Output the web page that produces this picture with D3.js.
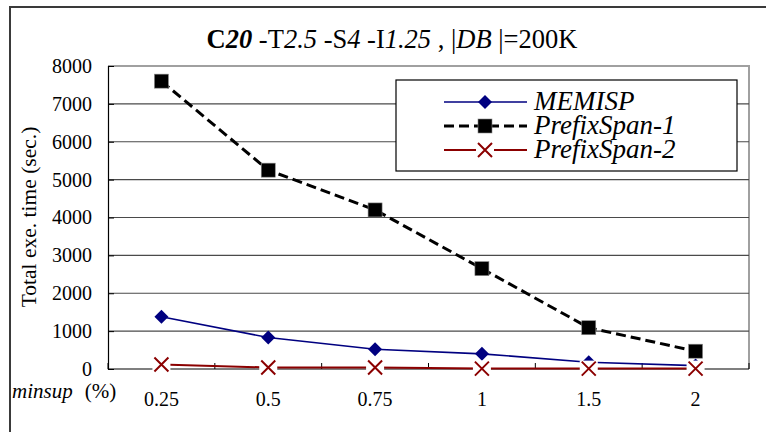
<!DOCTYPE html>
<html>
<head>
<meta charset="utf-8">
<script src="https://cdn.jsdelivr.net/npm/d3@7"></script>
<style>
body { margin: 0; background: #fff; }
svg { display: block; font-family: "Liberation Serif", "Times New Roman", serif; }
</style>
</head>
<body>
<svg id="chart" width="766" height="432"></svg>
<script>
// data
var categories = ["0.25", "0.5", "0.75", "1", "1.5", "2"];
var memisp = [1380, 830, 520, 400, 180, 90];
var prefixSpan1 = [7600, 5250, 4200, 2650, 1090, 470];
var prefixSpan2 = [120, 40, 40, 10, 10, 10];
var yTicks = [0, 1000, 2000, 3000, 4000, 5000, 6000, 7000, 8000];

var svg = d3.select("#chart");

var plotLeft = 108, plotRight = 749, plotTop = 66, plotBottom = 369;

var x = d3.scaleBand().domain(categories).range([plotLeft, plotRight]).padding(0);
var y = d3.scaleLinear().domain([0, 8000]).range([plotBottom, plotTop]);
var cx = function (d, i) { return x(categories[i]) + x.bandwidth() / 2; };

// outer frame (right and bottom edges fall outside the picture)
svg.append("path")
    .attr("d", "M10,432 V7 H766")
    .attr("fill", "none")
    .attr("stroke", "#3a3a3a")
    .attr("stroke-width", 2);

// title
var title = svg.append("text")
    .attr("x", 392).attr("y", 48)
    .attr("text-anchor", "middle")
    .style("font-size", "26.5px");
var parts = [
    ["C", "bold", "normal"], ["20", "bold", "italic"], [" -T", "normal", "normal"],
    ["2.5", "normal", "italic"], [" -S", "normal", "normal"], ["4", "normal", "italic"],
    [" -I", "normal", "normal"], ["1.25", "normal", "italic"], [" , |", "normal", "normal"],
    ["DB", "normal", "italic"], [" |=200K", "normal", "normal"]
];
parts.forEach(function (p) {
    title.append("tspan").text(p[0])
        .style("font-weight", p[1])
        .style("font-style", p[2]);
});

// plot border top/right
svg.append("path")
    .attr("d", "M" + plotLeft + "," + plotTop + " H" + plotRight + " V" + plotBottom)
    .attr("fill", "none")
    .attr("stroke", "#a0a0a0")
    .attr("stroke-width", 2);

// gridlines
svg.append("g").selectAll("line")
    .data(yTicks.filter(function (d) { return d > 0 && d < 8000; }))
    .join("line")
    .attr("x1", plotLeft).attr("x2", plotRight)
    .attr("y1", function (d) { return y(d); })
    .attr("y2", function (d) { return y(d); })
    .attr("stroke", "#4a4a4a")
    .attr("stroke-width", 1.2);

// y axis
var yAxis = svg.append("g")
    .attr("transform", "translate(" + plotLeft + ",0)")
    .call(d3.axisLeft(y).tickValues(yTicks).tickSize(-6).tickPadding(16).tickFormat(d3.format("d")));
yAxis.select(".domain").attr("stroke", "#000").attr("stroke-width", 1.2);
yAxis.selectAll("text")
    .style("font-family", "Liberation Serif")
    .style("font-size", "20px")
    .attr("fill", "#000");

// x axis
var bounds = d3.range(categories.length + 1).map(function (i) { return plotLeft + i * x.bandwidth(); });
svg.append("line")
    .attr("x1", plotLeft).attr("x2", plotRight)
    .attr("y1", plotBottom).attr("y2", plotBottom)
    .attr("stroke", "#000").attr("stroke-width", 1.2);
svg.append("g").selectAll("line")
    .data(bounds)
    .join("line")
    .attr("x1", function (d) { return d; }).attr("x2", function (d) { return d; })
    .attr("y1", plotBottom).attr("y2", plotBottom - 6)
    .attr("stroke", "#000");
svg.append("g").selectAll("text")
    .data(categories)
    .join("text")
    .attr("x", function (d) { return x(d) + x.bandwidth() / 2; })
    .attr("y", 406)
    .attr("text-anchor", "middle")
    .style("font-size", "20px")
    .text(function (d) { return d; });

// x axis title
var xt = svg.append("text").attr("x", 12).attr("y", 398).style("font-size", "21px");
xt.append("tspan").text("minsup").style("font-style", "italic");
xt.append("tspan").attr("dx", 12).text("(%)");

// y axis title
svg.append("text")
    .attr("transform", "translate(36,217) rotate(-90)")
    .attr("text-anchor", "middle")
    .style("font-size", "21.5px")
    .text("Total exe. time (sec.)");

var lineGen = d3.line().x(cx).y(function (d) { return y(d); });

function diamond(g, px, py) {
    g.append("path")
        .attr("d", "M" + px + "," + (py - 7) + " L" + (px + 7) + "," + py + " L" + px + "," + (py + 7) + " L" + (px - 7) + "," + py + "Z")
        .attr("fill", "#000080");
}
function square(g, px, py) {
    g.append("rect")
        .attr("x", px - 7).attr("y", py - 7).attr("width", 14).attr("height", 14)
        .attr("fill", "#000").attr("stroke", "#888").attr("stroke-width", 0.6);
}
function cross(g, px, py) {
    g.append("rect")
        .attr("x", px - 9).attr("y", py - 8).attr("width", 18).attr("height", 16)
        .attr("fill", "#fff");
    g.append("path")
        .attr("d", "M" + (px - 7) + "," + (py - 7) + " L" + (px + 7) + "," + (py + 7) + " M" + (px + 7) + "," + (py - 7) + " L" + (px - 7) + "," + (py + 7))
        .attr("stroke", "#8b0000").attr("stroke-width", 2).attr("fill", "none");
}

// MEMISP
var g1 = svg.append("g");
g1.append("path").datum(memisp).attr("d", lineGen)
    .attr("fill", "none").attr("stroke", "#000080").attr("stroke-width", 1.6);
memisp.forEach(function (d, i) { diamond(g1, cx(d, i), y(d)); });

// PrefixSpan-1
var g2 = svg.append("g");
g2.append("path").datum(prefixSpan1).attr("d", lineGen)
    .attr("fill", "none").attr("stroke", "#000").attr("stroke-width", 3)
    .attr("stroke-dasharray", "10,5");
prefixSpan1.forEach(function (d, i) { square(g2, cx(d, i), y(d)); });

// PrefixSpan-2
var g3 = svg.append("g");
g3.append("path").datum(prefixSpan2).attr("d", lineGen)
    .attr("fill", "none").attr("stroke", "#8b0000").attr("stroke-width", 2);
prefixSpan2.forEach(function (d, i) { cross(g3, cx(d, i), y(d)); });

// legend
var lg = svg.append("g");
lg.append("rect")
    .attr("x", 396).attr("y", 80).attr("width", 341).attr("height", 91)
    .attr("fill", "#fff").attr("stroke", "#000").attr("stroke-width", 1.2);
var legendRows = [
    { name: "MEMISP", y: 102 },
    { name: "PrefixSpan-1", y: 126 },
    { name: "PrefixSpan-2", y: 150 }
];
var lx1 = 444, lx2 = 527, lm = 485;
lg.append("line").attr("x1", lx1).attr("x2", lx2).attr("y1", legendRows[0].y).attr("y2", legendRows[0].y)
    .attr("stroke", "#000080").attr("stroke-width", 1.6);
diamond(lg, lm, legendRows[0].y);
lg.append("line").attr("x1", lx1).attr("x2", lx2).attr("y1", legendRows[1].y).attr("y2", legendRows[1].y)
    .attr("stroke", "#000").attr("stroke-width", 3).attr("stroke-dasharray", "10,5");
square(lg, lm, legendRows[1].y);
lg.append("line").attr("x1", lx1).attr("x2", lx2).attr("y1", legendRows[2].y).attr("y2", legendRows[2].y)
    .attr("stroke", "#8b0000").attr("stroke-width", 2);
cross(lg, lm, legendRows[2].y);
lg.selectAll("text.lbl")
    .data(legendRows)
    .join("text")
    .attr("class", "lbl")
    .attr("x", 534)
    .attr("y", function (d) { return d.y + 8; })
    .style("font-size", "27px")
    .style("font-style", "italic")
    .text(function (d) { return d.name; });
</script>
</body>
</html>
